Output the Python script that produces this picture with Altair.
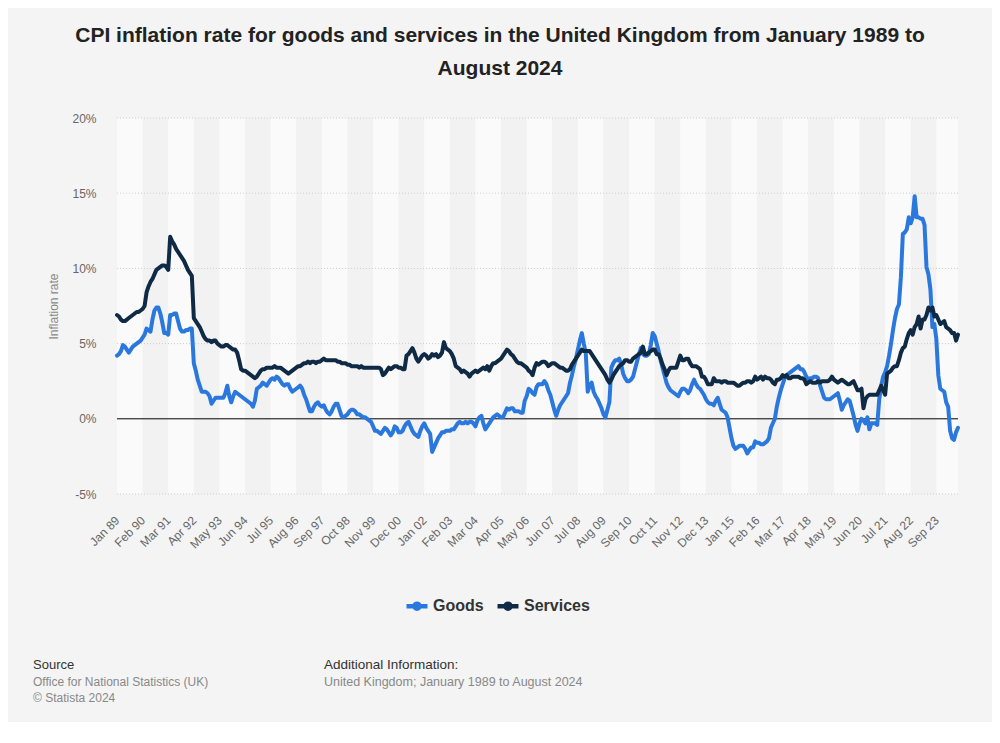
import json
import altair as alt
import pandas as pd

# ---- data (monthly, Jan 1989 - Aug 2024), percent ----
SERIES = ["Goods", "Services"]

GOODS = [
    [4.2, 4.3, 4.5, 4.9, 4.8, 4.6, 4.4, 4.6, 4.8, 4.9, 5.0, 5.1],          # 1989
    [5.2, 5.4, 5.6, 6.0, 5.9, 5.8, 6.6, 7.2, 7.4, 7.4, 7.0, 6.4],          # 1990
    [5.7, 5.7, 5.6, 6.9, 6.9, 7.0, 7.0, 6.5, 6.0, 5.8, 5.8, 5.9],          # 1991
    [5.9, 6.0, 6.0, 3.7, 3.2, 2.6, 2.2, 1.8, 1.8, 1.8, 1.7, 1.5],          # 1992
    [1.0, 1.2, 1.4, 1.4, 1.4, 1.4, 1.4, 1.7, 2.2, 1.5, 1.1, 1.5],          # 1993
    [1.8, 1.7, 1.6, 1.5, 1.4, 1.3, 1.2, 1.1, 1.0, 0.8, 1.2, 2.0],          # 1994
    [2.1, 2.2, 2.4, 2.3, 2.2, 2.4, 2.6, 2.7, 2.6, 2.8, 2.7, 2.5],          # 1995
    [2.3, 2.2, 2.3, 2.3, 2.0, 1.8, 1.9, 2.0, 2.1, 2.2, 2.0, 1.6],          # 1996
    [1.3, 0.9, 0.5, 0.5, 0.8, 1.0, 1.1, 0.9, 0.8, 0.9, 0.6, 0.4],          # 1997
    [0.3, 0.5, 0.8, 1.0, 1.0, 0.6, 0.2, 0.1, 0.2, 0.3, 0.5, 0.6],          # 1998
    [0.6, 0.5, 0.3, 0.3, 0.2, 0.1, 0.1, 0.0, -0.1, -0.2, -0.5, -0.8],      # 1999
    [-0.8, -0.9, -1.0, -0.8, -0.6, -0.7, -0.9, -1.1, -0.9, -0.5, -0.6, -0.9],  # 2000
    [-0.9, -0.8, -0.5, -0.3, -0.2, -0.5, -0.8, -1.0, -1.1, -1.2, -0.8, -0.5],  # 2001
    [-0.3, -0.6, -0.8, -1.0, -2.2, -1.9, -1.6, -1.3, -1.1, -0.9, -0.9, -0.8],  # 2002
    [-0.8, -0.8, -0.7, -0.7, -0.5, -0.3, -0.2, -0.3, -0.3, -0.2, -0.3, -0.2],  # 2003
    [-0.2, -0.3, -0.5, -0.1, 0.1, 0.2, -0.3, -0.7, -0.5, -0.3, -0.1, 0.1],     # 2004
    [0.2, 0.3, 0.2, 0.1, 0.1, 0.4, 0.7, 0.6, 0.7, 0.7, 0.5, 0.5],          # 2005
    [0.5, 0.4, 0.4, 1.2, 1.5, 2.0, 1.9, 1.7, 1.6, 2.1, 2.3, 2.3],          # 2006
    [2.3, 2.5, 2.3, 1.9, 1.6, 1.1, 0.6, 0.2, 0.6, 0.9, 1.1, 1.3],          # 2007
    [1.5, 1.7, 2.4, 2.9, 3.5, 4.0, 4.6, 5.2, 5.7, 5.0, 4.4, 1.8],          # 2008
    [2.2, 2.4, 1.8, 1.5, 1.3, 1.0, 0.7, 0.3, 0.1, 0.6, 1.1, 3.4],          # 2009
    [3.7, 3.9, 3.9, 4.0, 3.6, 3.0, 2.7, 2.5, 2.5, 2.6, 2.8, 3.3],          # 2010
    [3.8, 4.3, 4.7, 4.3, 4.2, 4.2, 4.3, 4.9, 5.7, 5.5, 5.0, 4.5],          # 2011
    [3.9, 3.4, 2.9, 2.4, 2.1, 1.9, 1.8, 1.7, 1.6, 1.5, 1.8, 2.0],          # 2012
    [2.0, 1.9, 1.7, 1.9, 2.3, 2.6, 2.3, 2.1, 2.0, 1.8, 1.6, 1.3],          # 2013
    [1.1, 1.0, 1.0, 0.9, 1.2, 1.4, 1.0, 0.6, 0.5, 0.4, 0.1, -0.6],         # 2014
    [-1.3, -1.8, -2.0, -1.9, -1.8, -1.8, -1.8, -2.0, -2.3, -2.1, -1.9, -1.9],  # 2015
    [-1.5, -1.6, -1.6, -1.7, -1.7, -1.6, -1.5, -1.3, -0.6, -0.3, 0.0, 0.8],    # 2016
    [1.4, 1.9, 2.3, 2.7, 2.9, 3.0, 3.1, 3.2, 3.3, 3.4, 3.5, 3.3],          # 2017
    [3.3, 3.1, 2.8, 2.6, 2.7, 2.7, 2.8, 2.8, 2.7, 2.2, 1.8, 1.4],          # 2018
    [1.3, 1.3, 1.3, 1.4, 1.5, 1.6, 1.7, 1.2, 0.6, 0.9, 1.1, 1.3],          # 2019
    [1.2, 0.7, 0.2, -0.4, -0.8, -0.3, 0.0, -0.1, -0.3, 0.1, -0.7, -0.3],   # 2020
    [-0.3, -0.3, -0.4, 1.3, 2.2, 2.8, 3.1, 3.5, 4.2, 5.0, 5.9, 6.7],       # 2021
    [7.3, 7.6, 9.4, 12.3, 12.4, 12.6, 13.4, 13.0, 13.4, 14.8, 13.4, 13.4], # 2022
    [13.3, 13.3, 12.9, 10.1, 9.6, 8.6, 6.1, 6.3, 5.3, 2.9, 2.0, 1.9],      # 2023
    [1.8, 1.1, 0.8, -0.8, -1.3, -1.4, -0.9, -0.6],                         # 2024
]

SERVICES = [
    [6.9, 6.8, 6.6, 6.5, 6.5, 6.6, 6.7, 6.8, 6.9, 7.0, 7.1, 7.1],          # 1989
    [7.2, 7.3, 7.5, 8.4, 8.8, 9.1, 9.3, 9.6, 9.9, 10.0, 10.1, 10.2],       # 1990
    [10.2, 10.1, 9.9, 12.1, 11.8, 11.6, 11.3, 11.1, 10.9, 10.7, 10.5, 10.2],  # 1991
    [9.9, 9.7, 9.5, 6.7, 6.5, 6.3, 6.1, 5.8, 5.5, 5.3, 5.2, 5.2],          # 1992
    [5.1, 5.2, 5.2, 5.0, 4.9, 4.8, 4.8, 4.9, 4.9, 4.8, 4.7, 4.6],          # 1993
    [4.6, 4.4, 3.9, 3.3, 3.2, 3.2, 3.1, 3.0, 2.9, 2.8, 2.7, 2.8],          # 1994
    [3.0, 3.2, 3.3, 3.3, 3.4, 3.4, 3.4, 3.4, 3.5, 3.4, 3.4, 3.4],          # 1995
    [3.3, 3.2, 3.1, 3.0, 3.1, 3.2, 3.3, 3.4, 3.5, 3.5, 3.6, 3.7],          # 1996
    [3.7, 3.8, 3.7, 3.8, 3.8, 3.7, 3.8, 3.8, 3.9, 4.0, 3.9, 3.9],          # 1997
    [3.9, 3.9, 3.9, 3.9, 3.8, 3.8, 3.7, 3.7, 3.7, 3.6, 3.6, 3.5],          # 1998
    [3.5, 3.5, 3.5, 3.4, 3.5, 3.4, 3.4, 3.4, 3.4, 3.4, 3.4, 3.4],          # 1999
    [3.4, 3.4, 3.3, 2.9, 3.0, 3.2, 3.4, 3.3, 3.4, 3.5, 3.5, 3.4],          # 2000
    [3.4, 3.3, 3.3, 4.2, 4.3, 4.5, 4.7, 4.4, 4.0, 3.8, 4.0, 4.2],          # 2001
    [4.3, 4.2, 4.0, 4.1, 4.3, 4.2, 4.3, 4.1, 4.2, 4.4, 5.1, 4.7],          # 2002
    [4.6, 4.5, 4.3, 4.0, 3.5, 3.4, 3.3, 3.1, 3.2, 3.1, 3.0, 2.8],          # 2003
    [3.0, 3.1, 3.2, 3.1, 3.2, 3.3, 3.4, 3.3, 3.5, 3.2, 3.5, 3.7],          # 2004
    [3.7, 3.8, 3.9, 4.0, 4.2, 4.4, 4.6, 4.5, 4.3, 4.2, 4.0, 3.8],          # 2005
    [3.7, 3.7, 3.6, 3.5, 3.4, 3.2, 3.1, 2.9, 3.4, 3.7, 3.6, 3.7],          # 2006
    [3.8, 3.8, 3.7, 3.5, 3.6, 3.7, 3.7, 3.6, 3.5, 3.4, 3.4, 3.3],          # 2007
    [3.2, 3.2, 3.3, 3.6, 3.8, 4.0, 4.2, 4.4, 4.6, 4.5, 4.5, 4.5],          # 2008
    [4.5, 4.3, 4.1, 3.9, 3.7, 3.5, 3.3, 3.1, 2.9, 2.6, 2.4, 2.6],          # 2009
    [2.9, 3.1, 3.3, 3.5, 3.6, 3.7, 3.9, 3.9, 3.8, 3.8, 4.0, 4.1],          # 2010
    [4.2, 4.3, 4.4, 4.8, 4.3, 4.3, 4.4, 4.5, 4.6, 4.6, 4.3, 4.3],          # 2011
    [4.0, 3.6, 3.3, 2.9, 3.2, 3.4, 3.4, 3.4, 3.4, 3.8, 4.2, 3.9],          # 2012
    [3.9, 4.0, 4.0, 3.7, 3.5, 3.5, 3.5, 3.4, 3.3, 2.8, 2.8, 2.6],          # 2013
    [2.3, 2.3, 2.3, 2.7, 2.5, 2.5, 2.5, 2.4, 2.5, 2.5, 2.4, 2.4],          # 2014
    [2.4, 2.4, 2.3, 2.2, 2.2, 2.3, 2.4, 2.4, 2.5, 2.5, 2.4, 2.5],          # 2015
    [2.8, 2.6, 2.7, 2.8, 2.6, 2.8, 2.7, 2.7, 2.6, 2.4, 2.3, 2.6],          # 2016
    [2.6, 2.7, 2.9, 2.8, 2.9, 2.7, 2.7, 2.8, 2.8, 2.8, 2.8, 2.7],          # 2017
    [2.7, 2.6, 2.3, 2.4, 2.5, 2.4, 2.4, 2.4, 2.5, 2.4, 2.5, 2.5],          # 2018
    [2.5, 2.5, 2.6, 2.8, 2.6, 2.5, 2.4, 2.5, 2.6, 2.5, 2.4, 2.3],          # 2019
    [2.3, 2.4, 2.5, 2.2, 1.9, 1.9, 2.0, 0.7, 1.3, 1.5, 1.6, 1.6],          # 2020
    [1.6, 1.6, 1.6, 1.9, 2.2, 1.9, 1.6, 3.0, 3.1, 3.2, 3.4, 3.5],          # 2021
    [3.5, 3.9, 4.4, 4.7, 4.8, 5.3, 5.7, 5.9, 5.6, 6.1, 6.3, 6.8],          # 2022
    [6.0, 6.6, 6.6, 6.9, 7.4, 7.2, 7.4, 6.8, 6.9, 6.6, 6.3, 6.4],          # 2023
    [6.5, 6.1, 6.0, 5.9, 5.7, 5.7, 5.2, 5.6],                              # 2024
]

TICK_LABELS = ["Jan 89", "Feb 90", "Mar 91", "Apr 92", "May 93", "Jun 94", "Jul 95",
               "Aug 96", "Sep 97", "Oct 98", "Nov 99", "Dec 00", "Jan 02", "Feb 03",
               "Mar 04", "Apr 05", "May 06", "Jun 07", "Jul 08", "Aug 09", "Sep 10",
               "Oct 11", "Nov 12", "Dec 13", "Jan 15", "Feb 16", "Mar 17", "Apr 18",
               "May 19", "Jun 20", "Jul 21", "Aug 22", "Sep 23"]
TICK_STEP = 13
Y_TICKS = [-5, 0, 5, 10, 15, 20]

# ---- tables ----
goods = [v for row in GOODS for v in row]
services = [v for row in SERVICES for v in row]
n = len(goods)
last = n - 1
df = pd.DataFrame({
    "m": list(range(n)) * 2,
    "value": goods + services,
    "series": ["Goods"] * n + ["Services"] * n,
})
tick_vals = [i * TICK_STEP for i in range(len(TICK_LABELS))]
bands = pd.DataFrame({
    "start": tick_vals,
    "end": [min(v + TICK_STEP, last) for v in tick_vals],
    "parity": [i % 2 for i in range(len(tick_vals))],
})
grid = pd.DataFrame({"y": [v for v in Y_TICKS if v != 0]})

FONT = "Liberation Sans"
BLUE = "#2a78de"
NAVY = "#0f2a45"

xscale = alt.Scale(domain=[0, last], nice=False, zero=False)
yscale = alt.Scale(domain=[-5, 20], nice=False)

label_expr = json.dumps(TICK_LABELS) + f"[round(datum.value / {TICK_STEP})]"

X_AXIS = alt.Axis(
    values=tick_vals, labelExpr=label_expr, labelAngle=-45, labelAlign="right",
    labelBaseline="middle", labelPadding=24, labelOverlap=False, labelFontSize=12,
    labelColor="#666666", labelFont=FONT, domain=False, ticks=False, grid=False, title=None)
Y_AXIS = alt.Axis(
    values=Y_TICKS, labelExpr="datum.value + '%'", labelFontSize=12, labelColor="#666666",
    labelFont=FONT, labelPadding=21, labelOverlap=False, domain=False, ticks=False, grid=False,
    title="Inflation rate", titleFont=FONT, titleFontSize=12, titleFontWeight="normal",
    titleColor="#888888", titlePadding=11)

band_layer = alt.Chart(bands).mark_rect().encode(
    x=alt.X("start:Q", scale=xscale, axis=X_AXIS),
    x2="end:Q",
    fill=alt.Fill("parity:N", scale=alt.Scale(domain=[0, 1], range=["#fafafa", "#f2f2f2"]), legend=None),
)

grid_layer = alt.Chart(grid).mark_rule(color="#cccccc", strokeDash=[1, 2], strokeWidth=1).encode(
    y=alt.Y("y:Q", scale=yscale, axis=Y_AXIS),
)

zero_layer = alt.Chart(pd.DataFrame({"y": [0]})).mark_rule(color="#000000", strokeWidth=1).encode(
    y=alt.Y("y:Q", scale=yscale, axis=Y_AXIS)
)

SYMBOL = ("M-1,0 H1 "
          "M0.24,0 A0.24,0.24 0 1,1 -0.24,0 A0.24,0.24 0 1,1 0.24,0 Z")

line_layer = alt.Chart(df).mark_line(strokeWidth=4, strokeCap="round", strokeJoin="round").encode(
    x=alt.X("m:Q", scale=xscale, axis=X_AXIS),
    y=alt.Y("value:Q", scale=yscale, axis=Y_AXIS),
    color=alt.Color("series:N", scale=alt.Scale(domain=SERIES, range=[BLUE, NAVY]),
                    legend=alt.Legend(orient="none", legendX=287, legendY=475, direction="horizontal",
                                      title=None, labelFont=FONT, labelFontSize=16,
                                      labelFontWeight="bold", labelColor="#333333",
                                      symbolType=SYMBOL, symbolSize=441, symbolStrokeWidth=4.5,
                                      labelOffset=3, columnPadding=4, padding=0)),
    order="m:Q",
)


def txt(s, x, y, size=12, color="#666666", weight="normal", align="left"):
    return alt.Chart(alt.Data(values=[{"t": s}])).mark_text(
        font=FONT, fontSize=size, color=color, fontWeight=weight, align=align, baseline="middle"
    ).encode(text="t:N", x=alt.value(x), y=alt.value(y))


OX, OY = 117, 118  # plot origin on the page
texts = [
    txt("CPI inflation rate for goods and services in the United Kingdom from January 1989 to",
        500 - OX, 36 - OY, size=21, color="#222222", weight="bold", align="center"),
    txt("August 2024", 500 - OX, 69 - OY, size=21, color="#222222", weight="bold", align="center"),
    txt("Source", 33 - OX, 665 - OY, size=13, color="#333333"),
    txt("Office for National Statistics (UK)", 33 - OX, 682 - OY, size=12, color="#888888"),
    txt("\u00a9 Statista 2024", 33 - OX, 698 - OY, size=12, color="#888888"),
    txt("Additional Information:", 324 - OX, 665 - OY, size=13.5, color="#333333"),
    txt("United Kingdom; January 1989 to August 2024", 324 - OX, 682 - OY, size=12.5, color="#888888"),
]

chart = alt.layer(band_layer, grid_layer, zero_layer, line_layer, *texts).properties(
    width=841, height=376,
    background="#f4f4f4",
    autosize=alt.AutoSizeParams(type="none"),
    padding={"left": 109, "top": 110, "right": 34, "bottom": 228},
).configure_view(stroke=None).configure_axis(labelOverlap=False)

chart.save("out.html", embed_options={"renderer": "svg", "actions": False})
